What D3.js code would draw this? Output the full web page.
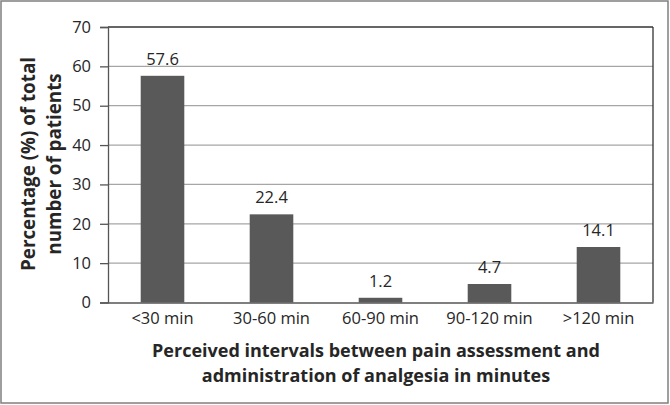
<!DOCTYPE html>
<html><head><meta charset="utf-8">
<script src="https://cdn.jsdelivr.net/npm/d3@7"></script>
<style>body{margin:0;background:#fff}svg{display:block}text{font-family:"Open Sans",sans-serif}</style>
</head><body><svg id="c" width="670" height="405"></svg>
<script>
const categories = ["<30 min","30-60 min","60-90 min","90-120 min",">120 min"];
const values = [57.6,22.4,1.2,4.7,14.1];
const yTicks = [0,10,20,30,40,50,60,70];
const xTitle = ["Perceived intervals between pain assessment and","administration of analgesia in minutes"];
const yTitle = ["Percentage (%) of total","number of patients"];

const svg = d3.select("#c");
svg.append("rect").attr("x",1).attr("y",1).attr("width",667).attr("height",402)
  .attr("fill","#fff").attr("stroke","#7f7f7f").attr("stroke-width",1.5);
const m = {l:108,t:27,r:653,b:302.5};
const x = d3.scaleBand().domain(categories).range([m.l,m.r]).paddingInner(0.6).paddingOuter(0.3);
const y = d3.scaleLinear().domain([0,70]).range([m.b,m.t]);

const g = svg.append("g");
g.selectAll(".grid").data(yTicks.slice(1,-1)).join("line")
  .attr("x1",m.l).attr("x2",m.r).attr("y1",d=>y(d)).attr("y2",d=>y(d))
  .attr("stroke","#a6a6a6").attr("stroke-width",1.3);
g.append("line").attr("x1",m.l).attr("x2",m.r).attr("y1",m.t).attr("y2",m.t).attr("stroke","#333").attr("stroke-width",1.3);
g.append("line").attr("x1",m.r).attr("x2",m.r).attr("y1",m.t).attr("y2",m.b).attr("stroke","#333").attr("stroke-width",1.3);

g.selectAll(".bar").data(values).join("rect")
  .attr("x",(d,i)=>x(categories[i])).attr("width",x.bandwidth())
  .attr("y",d=>y(d)).attr("height",d=>y(0)-y(d)).attr("fill","#595959");

g.selectAll(".lbl").data(values).join("text")
  .attr("x",(d,i)=>x(categories[i])+x.bandwidth()/2).attr("y",d=>y(d)-11)
  .attr("text-anchor","middle").attr("font-size",16.5).attr("fill","#262626").text(d=>d.toFixed(1));

const ya = d3.axisLeft(y).tickValues(yTicks).tickSize(8).tickPadding(9).tickFormat(d3.format("d"));
const yg = svg.append("g").attr("transform",`translate(${m.l},0)`).call(ya);
yg.select(".domain").attr("stroke","#555").attr("stroke-width",1.3);
yg.selectAll(".tick line").attr("stroke","#555").attr("stroke-width",1.3);
yg.selectAll(".tick text").attr("font-size",16.5).attr("fill","#262626").attr("font-family","'Open Sans',sans-serif");

const xa = d3.axisBottom(x).tickSize(0).tickPadding(10);
const xg = svg.append("g").attr("transform",`translate(0,${m.b})`).call(xa);
xg.select(".domain").attr("stroke","#555").attr("stroke-width",1.3);
xg.selectAll(".tick text").attr("font-size",16.5).attr("fill","#262626").attr("font-family","'Open Sans',sans-serif");

svg.selectAll(".xt").data(xTitle).join("text")
  .attr("x",376).attr("y",(d,i)=>357+i*25).attr("text-anchor","middle")
  .attr("font-size",18).attr("font-weight","bold").attr("fill","#262626").text(d=>d);

svg.selectAll(".yt").data(yTitle).join("text")
  .attr("transform",(d,i)=>`translate(${35+i*26},164) rotate(-90)`).attr("text-anchor","middle")
  .attr("font-size",18.8).attr("font-weight","bold").attr("fill","#262626").text(d=>d);
</script></body></html>
